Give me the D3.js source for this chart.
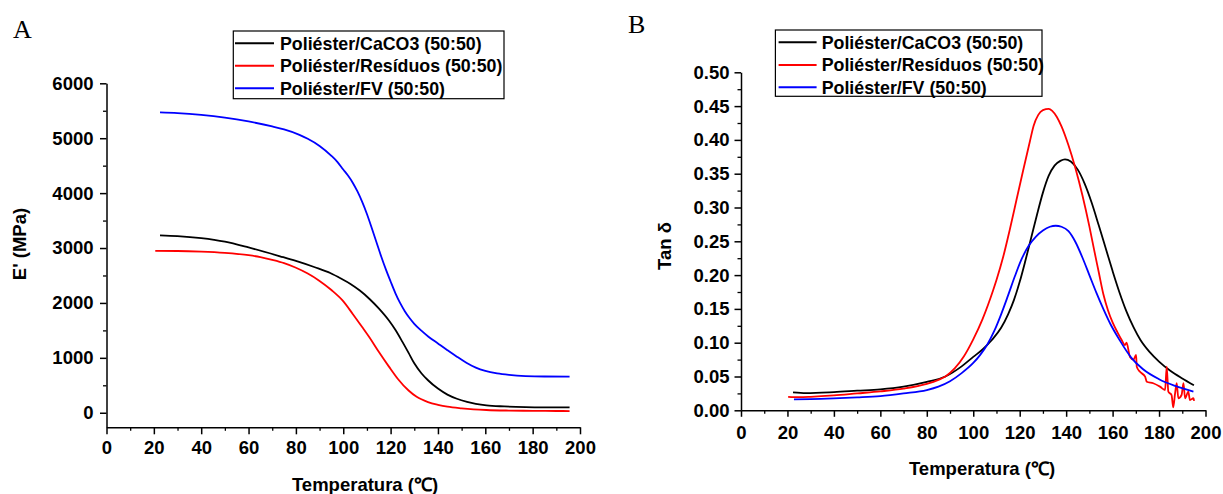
<!DOCTYPE html>
<html>
<head>
<meta charset="utf-8">
<script src="https://cdn.jsdelivr.net/npm/d3@7"></script>
<style>
  html, body { margin: 0; padding: 0; background: #fff; }
  svg { display: block; }
  text { font-family: "Liberation Sans", Arial, sans-serif; font-weight: bold; fill: #000; }
</style>
</head>
<body>
<svg id="chart" width="1223" height="494"></svg>
<script>
// ---------------- DATA ----------------
const seriesNames = ["Poliéster/CaCO3 (50:50)", "Poliéster/Resíduos (50:50)", "Poliéster/FV (50:50)"];
const seriesColors = ["#000000", "#ff0000", "#0000ff"];
const xTicks = [0, 20, 40, 60, 80, 100, 120, 140, 160, 180, 200];
const yTicksA = [0, 1000, 2000, 3000, 4000, 5000, 6000];
const yTicksB = [0.00, 0.05, 0.10, 0.15, 0.20, 0.25, 0.30, 0.35, 0.40, 0.45, 0.50];

// Panel A: storage modulus E' (MPa) vs temperature (°C)
const caco3E = [[22.6,3232],[30,3218],[40,3180],[50,3115],[60,3010],[73.3,2850],[80,2765],[88,2650],[94.7,2540],[99,2445],[102.9,2350],[107,2225],[111.1,2072],[115,1900],[119.3,1679],[122,1510],[125,1290],[127.6,1090],[130,900],[133,720],[135.8,592],[140,440],[144,330],[148,255],[152.3,199],[156,163],[160.5,134],[168,115],[177,103],[186,99],[195.6,98]];
const residuosE = [[20.6,2947],[30,2946],[40,2935],[50,2912],[60,2870],[65,2835],[70,2785],[75,2725],[79.8,2645],[85,2535],[89.7,2410],[95,2235],[99.6,2050],[104,1800],[108,1560],[111.1,1370],[115,1110],[119.3,840],[123,620],[127.6,405],[131,290],[135.8,195],[140,145],[144,110],[150,80],[155,62],[160.5,50],[170,40],[180,35],[190,32],[195.6,31]];
const fvE = [[22.6,5471],[30,5458],[40,5425],[50,5375],[60,5305],[70,5215],[75,5160],[81.5,5062],[85,4990],[90,4860],[95,4680],[97.5,4570],[100,4430],[102,4320],[104,4190],[106,4030],[108,3840],[110,3620],[112,3370],[114,3110],[116,2850],[118,2610],[120,2390],[122,2180],[124,2000],[126,1850],[128,1725],[130,1620],[133,1495],[136,1385],[140,1262],[144,1140],[148,1022],[152,912],[156,822],[160,762],[165,717],[170,690],[177,668],[185,660],[195.6,659]];

// Panel B: tan delta vs temperature (°C)
const caco3Tan = [[22.4,0.0265],[28,0.0255],[40,0.027],[50,0.029],[60,0.031],[70,0.035],[80,0.042],[88,0.050],[95,0.065],[100,0.079],[104,0.090],[108,0.104],[112,0.122],[115,0.142],[117.5,0.163],[120,0.190],[122.5,0.222],[125,0.256],[127.5,0.290],[130,0.322],[132.5,0.347],[135,0.362],[137.5,0.369],[139.5,0.3713],[142,0.368],[145,0.356],[148,0.335],[151,0.307],[154,0.274],[157,0.240],[160,0.206],[163,0.174],[166,0.146],[169,0.123],[172,0.104],[176,0.086],[180,0.072],[185,0.058],[190,0.047],[195,0.037]];
const residuosTan = [[20.3,0.020],[25,0.0195],[30,0.020],[40,0.022],[50,0.025],[60,0.028],[70,0.032],[80,0.039],[85,0.045],[88,0.050],[92,0.062],[96,0.080],[100,0.105],[104,0.135],[108.6,0.178],[110,0.1927],[112.9,0.227],[115.7,0.2667],[118.6,0.311],[121.5,0.355],[124.4,0.398],[126,0.421],[128,0.437],[130,0.444],[132.5,0.446],[134,0.443],[136,0.434],[138,0.420],[141,0.392],[144,0.358],[147,0.318],[150,0.272],[152,0.238],[154,0.205],[156,0.172],[158,0.148],[160,0.130],[162,0.116],[163.9,0.104],[165.3,0.0966],[166,0.100],[167.5,0.079],[169,0.075],[170.1,0.082],[170.4,0.0645],[171.8,0.057],[174,0.0497],[174.7,0.0423],[177.5,0.040],[180.4,0.035],[182.6,0.030],[183.3,0.0645],[184,0.0275],[185.4,0.0226],[186.1,0.0044],[186.9,0.025],[187.6,0.040],[188.3,0.0178],[189.7,0.0226],[190.5,0.040],[191.2,0.0178],[192.6,0.0275],[193.3,0.0152],[194.8,0.0178],[195.1,0.014]];
const fvTan = [[22.8,0.0163],[30,0.0165],[40,0.0175],[50,0.019],[60,0.021],[70,0.025],[80,0.030],[85,0.035],[90,0.043],[95,0.055],[100,0.070],[103,0.082],[106,0.097],[109,0.117],[112,0.142],[115,0.170],[118,0.199],[121,0.225],[124,0.244],[127,0.257],[130,0.266],[133,0.2715],[135.5,0.273],[138,0.2715],[141,0.265],[144,0.249],[147,0.226],[150,0.200],[153,0.174],[156,0.150],[159,0.128],[163,0.104],[168,0.078],[173,0.061],[180,0.046],[187,0.036],[194.8,0.0275]];

// ---------------- DRAW ----------------
const svg = d3.select("#chart");

function drawPanel(cfg) {
  const g = svg.append("g");
  const x = d3.scaleLinear().domain([0, 200]).range(cfg.xRange);
  const y = d3.scaleLinear().domain(cfg.yDomain).range(cfg.yRange);
  const axisY0 = cfg.yRange[0];

  // minor x ticks
  g.append("g").attr("transform", `translate(0,${axisY0})`)
    .call(d3.axisBottom(x).tickValues(d3.range(10, 200, 20)).tickSize(3.5).tickFormat("").tickSizeOuter(0))
    .call(s => s.select(".domain").remove())
    .call(s => s.selectAll("line").attr("stroke-width", 1.3));
  // major x axis
  g.append("g").attr("transform", `translate(0,${axisY0})`)
    .call(d3.axisBottom(x).tickValues(xTicks).tickSize(cfg.xTickLen).tickPadding(cfg.xPad).tickSizeOuter(0).tickFormat(d3.format("d")))
    .call(s => s.select(".domain").attr("stroke-width", 1.5))
    .call(s => s.selectAll("line").attr("stroke-width", 1.5))
    .call(s => s.selectAll("text").style("font-size", "18.5px").attr("font-family", null));

  // minor y ticks
  g.append("g").attr("transform", `translate(${cfg.xRange[0]},0)`)
    .call(d3.axisLeft(y).tickValues(cfg.yMinor).tickSize(3.5).tickFormat("").tickSizeOuter(0))
    .call(s => s.select(".domain").remove())
    .call(s => s.selectAll("line").attr("stroke-width", 1.3));
  // major y axis
  g.append("g").attr("transform", `translate(${cfg.xRange[0]},0)`)
    .call(d3.axisLeft(y).tickValues(cfg.yTicks).tickSize(6.5).tickPadding(cfg.yPad).tickSizeOuter(0).tickFormat(cfg.yFormat))
    .call(s => s.select(".domain").attr("stroke-width", 1.5))
    .call(s => s.selectAll("line").attr("stroke-width", 1.5))
    .call(s => s.selectAll("text").style("font-size", "18.5px").attr("font-family", null));

  // curves
  const line = d3.line().x(d => x(d[0])).y(d => y(d[1])).curve(d3.curveMonotoneX);
  cfg.series.forEach((data, i) => {
    g.append("path").datum(data)
      .attr("fill", "none")
      .attr("stroke", seriesColors[i])
      .attr("stroke-width", 1.8)
      .attr("stroke-linejoin", "round")
      .attr("d", line);
  });

  // axis titles
  g.append("text").attr("x", cfg.xTitle[0]).attr("y", cfg.xTitle[1])
    .attr("text-anchor", "middle").style("font-size", "18.5px")
    .text("Temperatura (℃)");
  g.append("text")
    .attr("transform", `translate(${cfg.yTitle[0]},${cfg.yTitle[1]}) rotate(-90)`)
    .attr("text-anchor", "middle").style("font-size", "18.5px")
    .text(cfg.yLabel);

  // panel letter
  g.append("text").attr("x", cfg.letterPos[0]).attr("y", cfg.letterPos[1])
    .style("font-family", "'Liberation Serif', 'Times New Roman', serif")
    .style("font-weight", "normal").style("font-size", "26px")
    .text(cfg.letter);

  // legend
  const lg = g.append("g");
  const b = cfg.legendBox;
  lg.append("rect").attr("x", b[0]).attr("y", b[1]).attr("width", b[2]).attr("height", b[3])
    .attr("fill", "#fff").attr("stroke", "#000").attr("stroke-width", 1.2);
  seriesNames.forEach((name, i) => {
    const yy = cfg.legendRows[i];
    lg.append("line").attr("x1", cfg.legendLine[0]).attr("x2", cfg.legendLine[1])
      .attr("y1", yy).attr("y2", yy).attr("stroke", seriesColors[i]).attr("stroke-width", 2);
    lg.append("text").attr("x", cfg.legendText).attr("y", yy).attr("dy", "0.36em")
      .style("font-size", "17.8px").text(name);
  });
}

drawPanel({
  xRange: [106.5, 580],
  yDomain: [-265, 6000],
  yRange: [427.3, 83.3],
  yTicks: yTicksA,
  yMinor: d3.range(500, 6000, 1000),
  yFormat: d3.format("d"),
  xTickLen: 7, xPad: 7,
  yPad: 6.5,
  series: [caco3E, residuosE, fvE],
  xTitle: [365, 491],
  yTitle: [26, 244],
  yLabel: "E' (MPa)",
  letter: "A", letterPos: [13, 37.5],
  legendBox: [233.3, 31, 270.7, 67.7],
  legendLine: [235, 274],
  legendRows: [43.3, 65.7, 88.3],
  legendText: 280
});

drawPanel({
  xRange: [741, 1205.5],
  yDomain: [0, 0.5],
  yRange: [410.3, 72.3],
  yTicks: yTicksB,
  yMinor: d3.range(0.025, 0.5, 0.05),
  yFormat: d3.format(".2f"),
  xTickLen: 6.5, xPad: 9,
  yPad: 5,
  series: [caco3Tan, residuosTan, fvTan],
  xTitle: [982, 475],
  yTitle: [671, 246],
  yLabel: "Tan δ",
  letter: "B", letterPos: [628, 32.5],
  legendBox: [775.4, 30, 266.6, 66.3],
  legendLine: [778.6, 816.6],
  legendRows: [42.3, 65, 87.3],
  legendText: 821.7
});
</script>
</body>
</html>
